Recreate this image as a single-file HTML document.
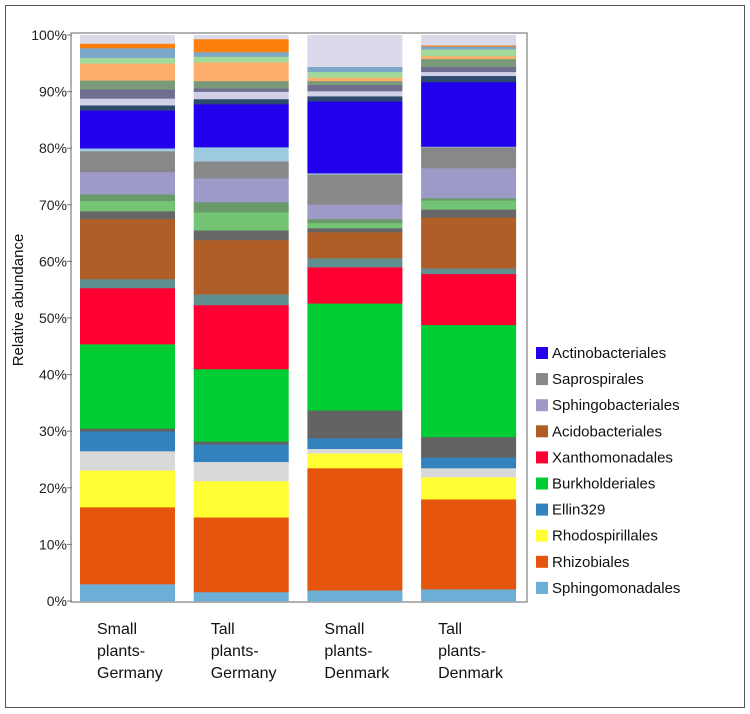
<!DOCTYPE html>
<html><head><meta charset="utf-8"><style>
body{margin:0;background:#fff;font-family:"Liberation Sans",sans-serif}
#outer{position:absolute;left:5px;top:5px;width:738px;height:701px;border:1px solid #555}
</style></head><body>
<div id="outer"></div>
<svg id="chart" width="750" height="714" style="position:absolute;left:0;top:0"></svg>
<script>
const categories=[["Small","plants-","Germany"],["Tall","plants-","Germany"],["Small","plants-","Denmark"],["Tall","plants-","Denmark"]];
const seriesNames=["Sphingomonadales","Rhizobiales","Rhodospirillales","Other1","Ellin329","Other2","Burkholderiales","Xanthomonadales","Other3","Acidobacteriales","Other4","Other5","Other6","Sphingobacteriales","Saprospirales","Other7","Actinobacteriales","Other8","Other9","Other10","Other11","Other12","Other13","Other14","Other15","Other16"];
const seriesColors=["#6baed6","#e6550d","#ffff33","#d9d9d9","#3182bd","#636363","#00cc33","#ff0033","#5f8f8f","#b05e28","#666666","#74c476","#6a9a6a","#9e9ac8","#888888","#9ecae1","#2200ee","#2c4a6e","#d0d1e6","#6e6e8e","#7a9a7a","#fdae6b","#a1d99b","#7ea6c8","#fd7f0e","#dadaeb"];
const bar1=[3,13.6,6.5,3.4,3.5,0.5,14.9,9.9,1.6,10.6,1.4,1.8,1.2,3.9,3.7,0.5,6.7,0.9,1.2,1.6,1.6,3,1,1.7,0.8,1.5];
const bar2=[1.6,13.2,6.4,3.4,3.1,0.5,12.8,11.3,1.9,9.6,1.7,3.2,1.8,4.2,3,2.5,7.6,0.9,1.3,0.6,1.3,3.3,1,0.8,2.3,0.7];
const bar3=[1.9,21.6,2.6,0.8,1.9,4.9,18.9,6.4,1.6,4.6,0.7,0.9,0.7,2.6,5.3,0.2,12.7,0.9,0.9,1.1,0.7,0.6,1,0.9,0,5.6];
const bar4=[2.1,15.9,3.9,1.6,1.9,3.6,19.8,9,1,9,1.4,1.6,0.4,5.3,3.7,0.1,11.4,1.1,0.7,0.9,1.4,0.5,1.2,0.5,0.2,1.8];
const bars=[bar1,bar2,bar3,bar4];
const yTicks=[0,10,20,30,40,50,60,70,80,90,100];
const legendNames=["Actinobacteriales","Saprospirales","Sphingobacteriales","Acidobacteriales","Xanthomonadales","Burkholderiales","Ellin329","Rhodospirillales","Rhizobiales","Sphingomonadales"];
const legendColors=["#2200ee","#888888","#9e9ac8","#b05e28","#ff0033","#00cc33","#3182bd","#ffff33","#e6550d","#6baed6"];

const svg=document.getElementById('chart');const NS="http://www.w3.org/2000/svg";
function mk(t,a,p){const e=document.createElementNS(NS,t);for(const k in a)e.setAttribute(k,a[k]);(p||svg).appendChild(e);return e;}
const y0=601,y1=35,px0=72,bw=95,step=113.7,bx0=80;
const yS=v=>y0-(y0-y1)*v/100;
const xS=i=>bx0+i*step;
const frame=mk('rect',{x:71,y:33,width:456,height:569,fill:'none',stroke:'#999','stroke-width':1.5});


bars.forEach((vals,i)=>{let acc=0;
 vals.forEach((v,j)=>{if(v<=0){return;}
  const r=mk('rect',{x:xS(i),y:yS(acc+v),width:bw,height:yS(acc)-yS(acc+v)+0.3,fill:seriesColors[j]});
  
  
  acc+=v;});
 categories[i].forEach((s,k)=>{const t=mk('text',{x:xS(i)+17,y:634+k*22,'font-size':16,fill:'#111'});t.textContent=s;
  
  });
});
yTicks.forEach(v=>{const t=mk('text',{x:67,y:yS(v)+5,'font-size':14,'text-anchor':'end',fill:'#222'});t.textContent=v+'%';
 
 
 const l=mk('line',{x1:67,x2:72,y1:yS(v),y2:yS(v),stroke:'#777'});
 
 });
const yt=mk('text',{x:0,y:0,'font-size':15,'text-anchor':'middle',transform:'translate(23,300) rotate(-90)',fill:'#111'});yt.textContent='Relative abundance';


legendNames.forEach((n,i)=>{const y=353+i*26.1;
 const r=mk('rect',{x:536,y:y-6,width:12,height:12,fill:legendColors[i]});
 
 
 const t=mk('text',{x:552,y:y+5,'font-size':15,fill:'#111'});t.textContent=n;
 
 });
</script>
</body></html>
